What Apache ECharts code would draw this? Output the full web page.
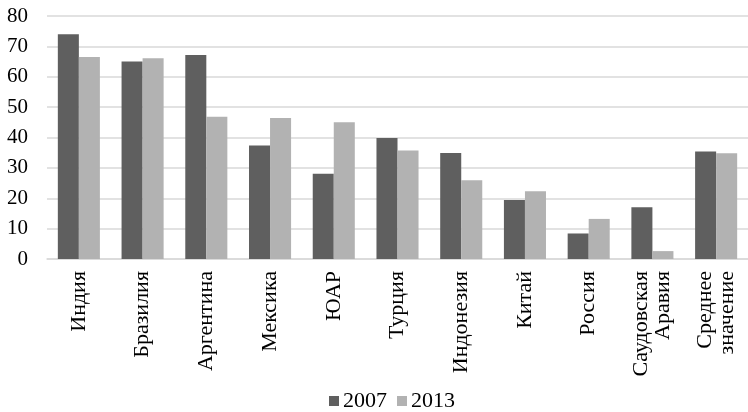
<!DOCTYPE html>
<html><head><meta charset="utf-8">
<script src="https://cdn.jsdelivr.net/npm/echarts@6/dist/echarts.min.js"></script>
<style>html,body{margin:0;padding:0;background:#fff;overflow:hidden}#c{width:748px;height:412px}</style>
</head><body><div id="c"></div>
<script>
var categories = ['Индия','Бразилия','Аргентина','Мексика','ЮАР','Турция','Индонезия','Китай','Россия','Саудовская\nАравия','Среднее\nзначение'];
var values2007 = [74.0, 65.0, 67.2, 37.4, 28.1, 39.8, 34.9, 19.4, 8.4, 17.0, 35.4];
var values2013 = [66.5, 66.1, 46.8, 46.4, 45.0, 35.7, 25.9, 22.3, 13.2, 2.6, 34.8];
var yTicks = {min: 0, max: 80, interval: 10};
var seriesNames = ['2007', '2013'];

var font = 'Liberation Serif';
var chart = echarts.init(document.getElementById('c'));
chart.setOption({
  animation: false,
  grid: {left: 47, right: -8, top: 16, bottom: 153},
  legend: {
    top: 390, left: 329, padding: 0,
    itemWidth: 10, itemHeight: 10, itemGap: 10,
    icon: 'rect',
    textStyle: {fontFamily: font, fontSize: 22, color: '#000', padding: [0,0,0,-1]},
    data: seriesNames
  },
  xAxis: {
    type: 'category', data: categories,
    axisLine: {lineStyle: {color: '#d9d9d9', width: 1.5}},
    axisTick: {show: false},
    axisLabel: {rotate: 90, interval: 0, margin: 12, fontFamily: font, fontSize: 22, color: '#000', lineHeight: 22}
  },
  yAxis: {
    type: 'value', min: yTicks.min, max: yTicks.max, interval: yTicks.interval,
    axisLine: {show: false}, axisTick: {show: false},
    axisLabel: {margin: 19, fontFamily: font, fontSize: 21, color: '#000'},
    splitLine: {lineStyle: {color: '#d9d9d9', width: 1.5}}
  },
  series: [
    {name: seriesNames[0], type: 'bar', data: values2007, barGap: '0%', barCategoryGap: '34%', itemStyle: {color: '#5f5f5f'}},
    {name: seriesNames[1], type: 'bar', data: values2013, barGap: '0%', barCategoryGap: '34%', itemStyle: {color: '#b2b2b2'}}
  ]
});
</script></body></html>
